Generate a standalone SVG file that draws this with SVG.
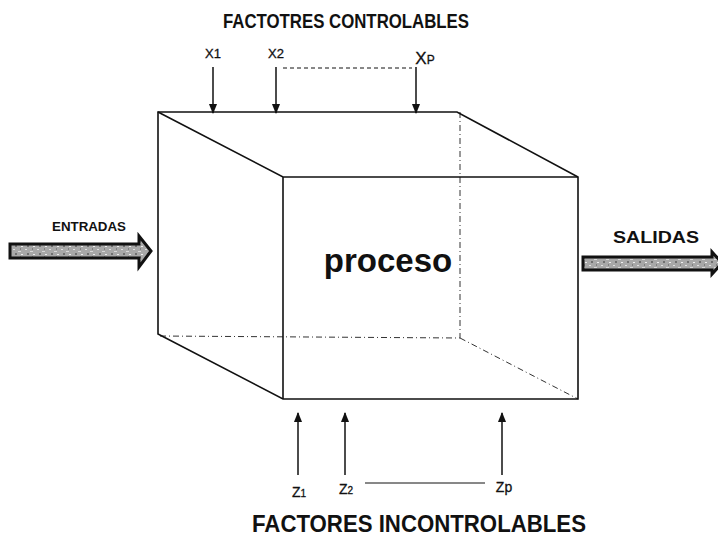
<svg xmlns="http://www.w3.org/2000/svg" width="718" height="543" viewBox="0 0 718 543">
<style>
.t{font-family:"Liberation Sans",Arial,sans-serif;font-weight:bold;fill:#111}
.lbl{font-family:"Liberation Sans",Arial,sans-serif;fill:#111;stroke:#111;stroke-width:0.3}
.edge{fill:none;stroke:#111;stroke-width:1.6}
.hid{fill:none;stroke:#333;stroke-width:1;stroke-dasharray:6 3 1 3}
.ar{stroke:#111;stroke-width:1.5;fill:none}
.fat{fill:url(#grain);stroke:#111;stroke-width:3;stroke-linejoin:miter}
</style>
<defs>
<marker id="ah" viewBox="0 0 10 10" refX="9" refY="5" markerWidth="7" markerHeight="7" orient="auto"><path d="M0,1 L10,5 L0,9 Z" fill="#111"/></marker>
<pattern id="grain" width="12" height="8" patternUnits="userSpaceOnUse">
<rect width="12" height="8" fill="#a8a8a8"/>
<rect x="1" y="1" width="2" height="1" fill="#e0e0e0"/>
<rect x="6" y="3" width="3" height="1" fill="#d8d8d8"/>
<rect x="3" y="5" width="2" height="2" fill="#707070"/>
<rect x="9" y="6" width="2" height="1" fill="#eeeeee"/>
<rect x="8" y="0" width="1" height="2" fill="#808080"/>
</pattern>
</defs>
<g id="titles">
<text class="t" x="346" y="28" font-size="21" text-anchor="middle" textLength="246" lengthAdjust="spacingAndGlyphs">FACTOTRES CONTROLABLES</text>
<text class="t" x="419" y="532" font-size="23" text-anchor="middle" textLength="334" lengthAdjust="spacingAndGlyphs">FACTORES INCONTROLABLES</text>
</g>
<g id="proceso">
<path class="hid" d="M460,112 L460,338 L158,336 M460,338 L578,399"/>
<path class="edge" d="M158,112 L457,112 L578,177 L578,399 L283,399 L158,334 Z"/>
<path class="edge" d="M158,112 L283,177 L578,177 M283,177 L283,399"/>
<text class="t" x="388" y="272" font-size="33" text-anchor="middle">proceso</text>
</g>
<g id="entradas">
<path class="fat" d="M10,244 L139,244 L139,236 L151,251 L139,267 L139,258 L10,258 Z"/>
<text class="t" x="89" y="231" font-size="13" text-anchor="middle" textLength="74" lengthAdjust="spacingAndGlyphs">ENTRADAS</text>
</g>
<g id="salidas">
<path class="fat" d="M583,257 L712,257 L712,252 L722,263 L712,274 L712,270 L583,270 Z"/>
<text class="t" x="656" y="243" font-size="17" text-anchor="middle" textLength="86" lengthAdjust="spacingAndGlyphs">SALIDAS</text>
</g>
<g id="labels">
<text class="lbl" x="213" y="58" text-anchor="middle" font-size="13">X1</text>
<text class="lbl" x="276" y="58" text-anchor="middle" font-size="13">X2</text>
<text class="lbl" x="425" y="64" text-anchor="middle" font-size="17">X<tspan font-size="12">P</tspan></text>
<text class="lbl" x="299" y="497" text-anchor="middle" font-size="14">Z<tspan font-size="10">1</tspan></text>
<text class="lbl" x="346" y="494" text-anchor="middle" font-size="14">Z<tspan font-size="10">2</tspan></text>
<text class="lbl" x="504" y="492" text-anchor="middle" font-size="14">Zp</text>
</g>
<g id="connectors">
<line class="ar" x1="213" y1="67" x2="213" y2="113" marker-end="url(#ah)"/>
<line class="ar" x1="276" y1="67" x2="276" y2="113" marker-end="url(#ah)"/>
<line class="ar" x1="416" y1="67" x2="416" y2="113" marker-end="url(#ah)"/>
<line x1="283" y1="68" x2="412" y2="68" stroke="#111" stroke-width="1" stroke-dasharray="4 3"/>
<line class="ar" x1="298" y1="475" x2="298" y2="413" marker-end="url(#ah)"/>
<line class="ar" x1="345" y1="475" x2="345" y2="413" marker-end="url(#ah)"/>
<line class="ar" x1="502" y1="475" x2="502" y2="413" marker-end="url(#ah)"/>
<line x1="365" y1="483" x2="485" y2="483" stroke="#111" stroke-width="1"/>
</g>
</svg>
